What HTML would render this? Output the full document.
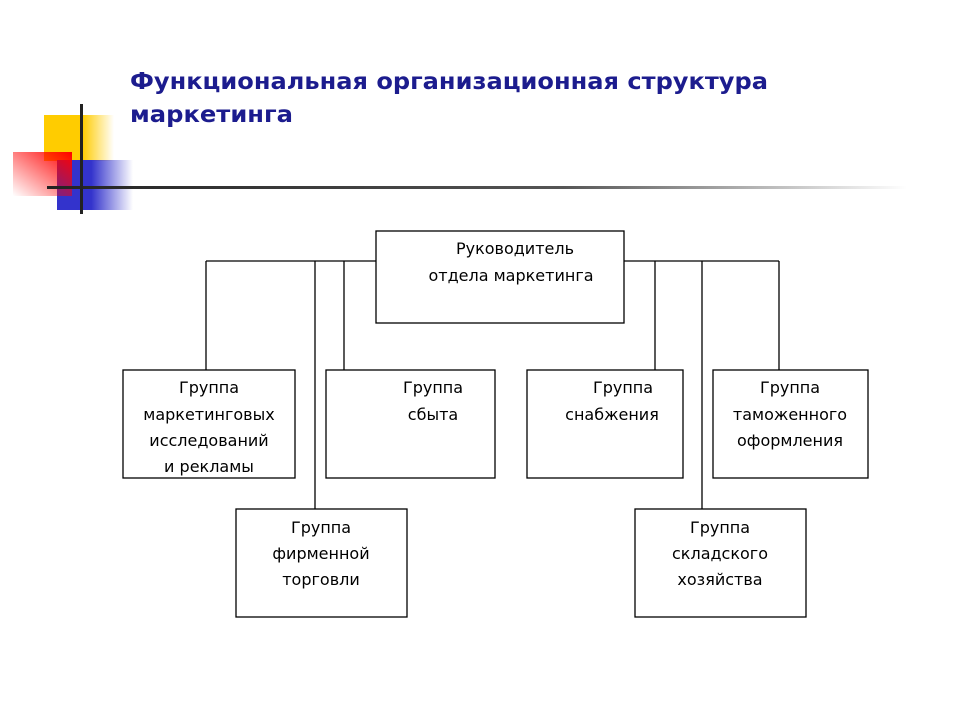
<!DOCTYPE html>
<html><head><meta charset="utf-8"><style>
html,body{margin:0;padding:0;background:#fff;}
svg{display:block;}
</style></head><body>
<svg width="960" height="720" viewBox="0 0 960 720" xmlns="http://www.w3.org/2000/svg">
<defs>
<linearGradient id="gy" x1="0" x2="1" y1="0" y2="0"><stop offset="0" stop-color="#ffcc00"/><stop offset="0.55" stop-color="#ffcc00"/><stop offset="1" stop-color="#ffcc00" stop-opacity="0"/></linearGradient>
<linearGradient id="gb" x1="0" x2="1" y1="0" y2="0"><stop offset="0" stop-color="#3333cc"/><stop offset="0.45" stop-color="#3333cc"/><stop offset="1" stop-color="#3333cc" stop-opacity="0"/></linearGradient>
<linearGradient id="gr" x1="1" x2="0" y1="0" y2="1"><stop offset="0" stop-color="#ff0000"/><stop offset="1" stop-color="#ff0000" stop-opacity="0"/></linearGradient>
<linearGradient id="gl" x1="0" x2="1" y1="0" y2="0"><stop offset="0" stop-color="#222"/><stop offset="0.6" stop-color="#555"/><stop offset="1" stop-color="#fff"/></linearGradient>
</defs>
<rect x="44" y="115" width="70" height="46" fill="url(#gy)"/>
<rect x="57" y="160" width="76" height="50" fill="url(#gb)"/>
<rect x="13" y="152" width="59" height="44" fill="url(#gr)"/>
<rect x="47" y="186" width="860" height="3" fill="url(#gl)"/>
<rect x="80" y="104" width="3" height="110" fill="#222"/>
<g font-family="'DejaVu Sans','Liberation Sans',sans-serif" font-weight="bold" font-size="23" fill="#1c1c8e">
<text x="130" y="89" textLength="638" lengthAdjust="spacingAndGlyphs">Функциональная организационная структура</text>
<text x="130" y="122" textLength="163" lengthAdjust="spacingAndGlyphs">маркетинга</text>
</g>
<g stroke="#000" stroke-width="1.3" fill="none">
<path d="M206 261H779M206 261V370M315 261V509M344 261V370M655 261V370M702 261V509M779 261V370"/>
<rect x="376" y="231" width="248" height="92" fill="#fff"/>
<rect x="123" y="370" width="172" height="108"/>
<rect x="326" y="370" width="169" height="108"/>
<rect x="527" y="370" width="156" height="108"/>
<rect x="713" y="370" width="155" height="108"/>
<rect x="236" y="509" width="171" height="108"/>
<rect x="635" y="509" width="171" height="108"/>
</g>
<g font-family="'DejaVu Sans','Liberation Sans',sans-serif" font-size="16" fill="#000" text-anchor="middle">
<text x="515" y="254">Руководитель</text>
<text x="511" y="281">отдела маркетинга</text>
<text x="209" y="393">Группа</text>
<text x="209" y="420">маркетинговых</text>
<text x="209" y="446">исследований</text>
<text x="209" y="472">и рекламы</text>
<text x="433" y="393">Группа</text>
<text x="433" y="420">сбыта</text>
<text x="623" y="393">Группа</text>
<text x="612" y="420">снабжения</text>
<text x="790" y="393">Группа</text>
<text x="790" y="420">таможенного</text>
<text x="790" y="446">оформления</text>
<text x="321" y="533">Группа</text>
<text x="321" y="559">фирменной</text>
<text x="321" y="585">торговли</text>
<text x="720" y="533">Группа</text>
<text x="720" y="559">складского</text>
<text x="720" y="585">хозяйства</text>
</g>
</svg>
</body></html>
